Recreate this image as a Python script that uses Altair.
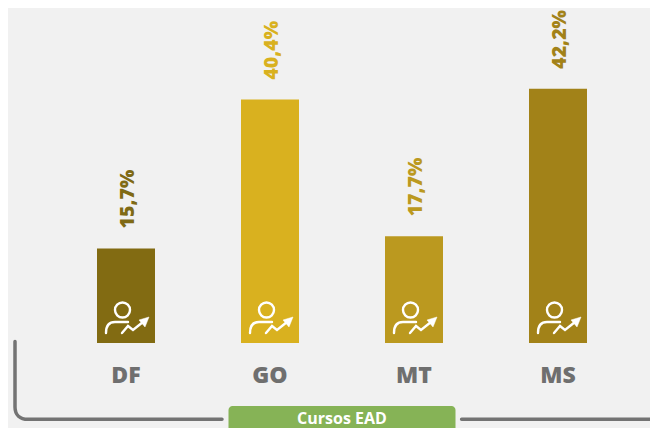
import altair as alt
import pandas as pd

categories = ["DF", "GO", "MT", "MS"]
values = [15.7, 40.4, 17.7, 42.2]
labels = ["15,7%", "40,4%", "17,7%", "42,2%"]
colors = ["#826b12", "#d9b11f", "#bb991f", "#a28218"]
label_colors = ["#7f6a15", "#d9b11f", "#bb991f", "#a28218"]
legend_title = ["Cursos EAD"]

FONT = "Open Sans"
df = pd.DataFrame({"cat": categories, "v": values, "label": labels,
                   "color": colors, "lc": label_colors})

x = alt.X("cat:N", sort=categories, title=None,
          scale=alt.Scale(range=[46, 622], paddingInner=0.597, paddingOuter=0.2985),
          axis=alt.Axis(domain=False, ticks=False, labelAngle=0, labelFont=FONT,
                        labelFontSize=23, labelFontWeight=800, labelColor="#6f6f6f",
                        labelPadding=21, grid=False))
y = alt.Y("v:Q", axis=None, scale=alt.Scale(domain=[0, 55.6], range=[335, 0]))

base = alt.Chart(df)
bars = base.mark_bar(size=58).encode(x=x, y=y, color=alt.Color("color:N", scale=None))
texts = base.mark_text(angle=270, align="left", baseline="middle", dx=20, dy=2, font=FONT,
                       fontSize=19.5, fontWeight=800).encode(
    x=x, y=y, text="label:N", color=alt.Color("lc:N", scale=None))

icon_stroke = ("M4,-10A7.5,7.5 0 1 1 -11,-10A7.5,7.5 0 1 1 4,-10Z"
               "M-20,13C-20,6 -17,2 -11,2L2,2"
               "M-4,13L2,6L7,10L17,2")
icon_head = "M23,-3L13,0L19,7Z"
icon_y = alt.value(312)
icon1 = base.mark_point(shape=icon_stroke, size=4, filled=False, stroke="white",
                        strokeWidth=2.4, opacity=1, strokeCap="round").encode(x=x, y=icon_y)
icon2 = base.mark_point(shape=icon_head, size=4, filled=True, fill="white",
                        stroke="white", strokeWidth=0.5, opacity=1).encode(x=x, y=icon_y)

one = alt.Chart(alt.Data(values=[{"t": legend_title[0]}]))
bracket = one.mark_point(
    shape="M7,333.5L7,399C7,407 12,411.3 20,411.3L214,411.3M453.6,411.3L660,411.3",
    size=4, filled=False, stroke="#737373", strokeWidth=3.5, opacity=1, strokeCap="round",
).encode(x=alt.value(0), y=alt.value(0))
box = one.mark_rect(cornerRadius=4, color="#86b356").encode(
    x=alt.value(220.5), x2=alt.value(447.5), y=alt.value(398), y2=alt.value(445))
box_text = one.mark_text(font=FONT, fontSize=16, fontWeight="bold", color="white",
                         baseline="alphabetic").encode(
    x=alt.value(334), y=alt.value(416), text="t:N")

chart = alt.layer(bars, texts, icon1, icon2, bracket, box, box_text).properties(
    width=642, height=335, background="#f1f1f1",
    padding={"left": 0, "top": 0, "right": 0, "bottom": 85},
    autosize=alt.AutoSizeParams(type="none"),
).configure_view(stroke=None)

chart.save("out.html", embed_options={"renderer": "svg", "actions": False})
